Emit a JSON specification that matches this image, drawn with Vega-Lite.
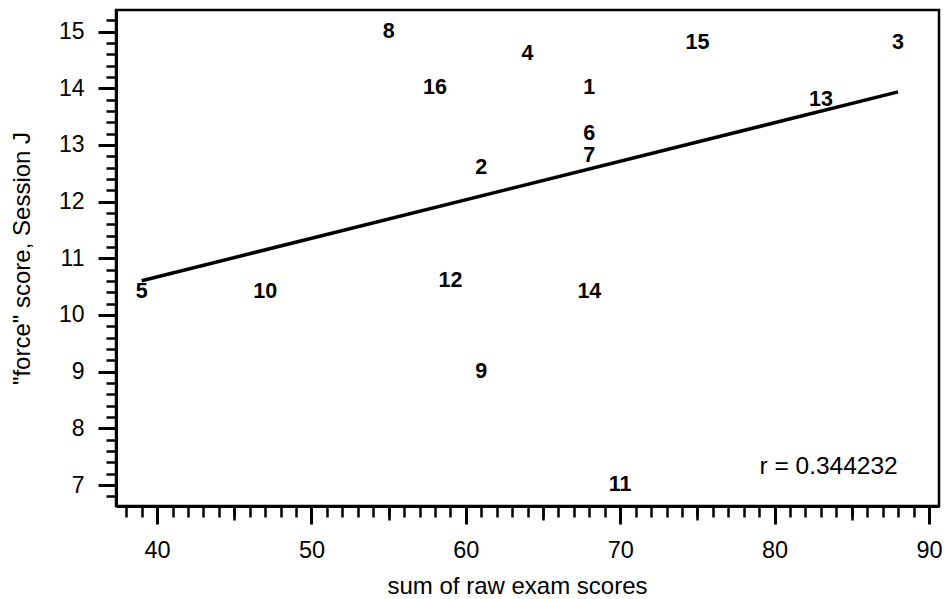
{
  "$schema": "https://vega.github.io/schema/vega-lite/v6.json",
  "width": 823,
  "height": 496,
  "autosize": {"type": "none"},
  "padding": {"left": 116, "top": 10, "right": 5, "bottom": 93},
  "background": "white",
  "config": {
    "view": {"stroke": "black", "strokeWidth": 2.5},
    "font": "Liberation Sans"
  },
  "datasets": {
    "points": [
      {"id": "1", "score": 68, "force": 14.0},
      {"id": "2", "score": 61, "force": 12.6},
      {"id": "3", "score": 88, "force": 14.8},
      {"id": "4", "score": 64, "force": 14.6},
      {"id": "5", "score": 39, "force": 10.4},
      {"id": "6", "score": 68, "force": 13.2},
      {"id": "7", "score": 68, "force": 12.8},
      {"id": "8", "score": 55, "force": 15.0},
      {"id": "9", "score": 61, "force": 9.0},
      {"id": "10", "score": 47, "force": 10.4},
      {"id": "11", "score": 70, "force": 7.0},
      {"id": "12", "score": 59, "force": 10.6},
      {"id": "13", "score": 83, "force": 13.8},
      {"id": "14", "score": 68, "force": 10.4},
      {"id": "15", "score": 75, "force": 14.8},
      {"id": "16", "score": 58, "force": 14.0}
    ],
    "fit": [
      {"score": 39, "force": 10.604},
      {"score": 88, "force": 13.936}
    ],
    "note": [
      {"score": 83.5, "force": 7.32, "label": "r = 0.344232"}
    ]
  },
  "resolve": {"axis": {"x": "independent", "y": "independent"}},
  "layer": [
    {
      "data": {"name": "fit"},
      "mark": {"type": "line", "color": "black", "strokeWidth": 3.5},
      "encoding": {
        "x": {
          "field": "score", "type": "quantitative",
          "scale": {"domain": [37.34, 90.65], "nice": false, "zero": false},
          "axis": {
            "orient": "bottom", "title": null, "labels": false, "domain": false, "grid": false,
            "values": [38,39,40,41,42,43,44,45,46,47,48,49,50,51,52,53,54,55,56,57,58,59,60,61,62,63,64,65,66,67,68,69,70,71,72,73,74,75,76,77,78,79,80,81,82,83,84,85,86,87,88,89,90],
            "tickSize": 11, "tickWidth": 2.5, "tickColor": "black"
          }
        },
        "y": {
          "field": "force", "type": "quantitative",
          "scale": {"domain": [6.63, 15.38], "nice": false, "zero": false},
          "axis": {
            "orient": "left", "title": null, "labels": false, "domain": false, "grid": false,
            "values": [6.8,7,7.2,7.4,7.6,7.8,8,8.2,8.4,8.6,8.8,9,9.2,9.4,9.6,9.8,10,10.2,10.4,10.6,10.8,11,11.2,11.4,11.6,11.8,12,12.2,12.4,12.6,12.8,13,13.2,13.4,13.6,13.8,14,14.2,14.4,14.6,14.8,15,15.2],
            "tickSize": 10, "tickWidth": 2.5, "tickColor": "black"
          }
        }
      }
    },
    {
      "data": {"name": "note"},
      "mark": {"type": "text", "font": "Liberation Sans", "fontSize": 24.5, "color": "black", "align": "center", "baseline": "middle"},
      "encoding": {
        "x": {
          "field": "score", "type": "quantitative",
          "scale": {"domain": [37.34, 90.65], "nice": false, "zero": false},
          "axis": {
            "orient": "bottom", "title": null, "labels": false, "domain": false, "grid": false,
            "values": [45, 55, 65, 75, 85],
            "tickSize": 14, "tickWidth": 2.5, "tickColor": "black"
          }
        },
        "y": {
          "field": "force", "type": "quantitative",
          "scale": {"domain": [6.63, 15.38], "nice": false, "zero": false},
          "axis": null
        },
        "text": {"field": "label"}
      }
    },
    {
      "data": {"name": "points"},
      "mark": {"type": "text", "font": "Liberation Sans", "fontSize": 21.5, "fontWeight": "bold", "color": "black", "align": "center", "baseline": "middle"},
      "encoding": {
        "x": {
          "field": "score", "type": "quantitative",
          "scale": {"domain": [37.34, 90.65], "nice": false, "zero": false},
          "axis": {
            "orient": "bottom", "title": "sum of raw exam scores", "grid": false,
            "values": [40, 50, 60, 70, 80, 90], "format": "d",
            "tickSize": 18, "tickWidth": 3, "tickColor": "black",
            "domain": true, "domainColor": "black", "domainWidth": 3,
            "labelFont": "Liberation Sans", "labelFontSize": 23.5, "labelColor": "black", "labelPadding": 14,
            "titleFont": "Liberation Sans", "titleFontSize": 24, "titleFontWeight": "normal", "titleColor": "black", "titlePadding": 13,
            "titleX": 401
          }
        },
        "y": {
          "field": "force", "type": "quantitative",
          "scale": {"domain": [6.63, 15.38], "nice": false, "zero": false},
          "axis": {
            "orient": "left", "title": "\"force\" score, Session J", "grid": false,
            "values": [7, 8, 9, 10, 11, 12, 13, 14, 15], "format": "d",
            "tickSize": 18, "tickWidth": 3, "tickColor": "black",
            "domain": true, "domainColor": "black", "domainWidth": 3,
            "labelFont": "Liberation Sans", "labelFontSize": 23, "labelColor": "black", "labelPadding": 14,
            "titleFont": "Liberation Sans", "titleFontSize": 24, "titleFontWeight": "normal", "titleColor": "black", "titlePadding": 24
          }
        },
        "text": {"field": "id"}
      }
    }
  ]
}
